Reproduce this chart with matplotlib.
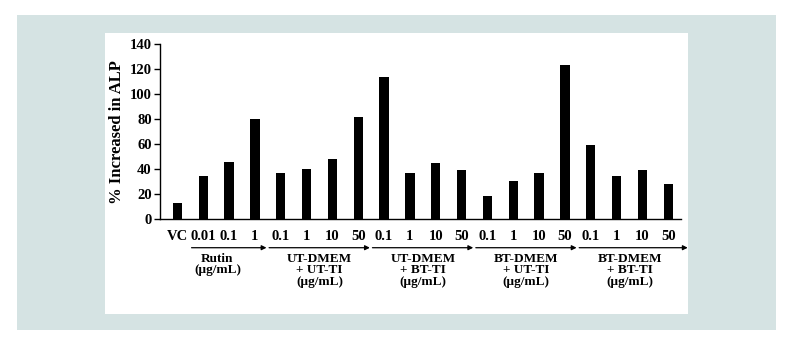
import numpy as np
import matplotlib.pyplot as plt
from matplotlib.patches import Rectangle

# Times-like bold text everywhere
plt.rcParams['font.family'] = ['Liberation Serif', 'DejaVu Serif']
plt.rcParams['font.weight'] = 'bold'

# dose labels under each bar
doses = ['VC', '0.01', '0.1', '1',
         '0.1', '1', '10', '50',
         '0.1', '1', '10', '50',
         '0.1', '1', '10', '50',
         '0.1', '1', '10', '50']
# % increase in ALP
alp = [13.3, 34.9, 46.0, 80.2,
       36.7, 40.5, 48.5, 81.7,
       113.7, 37.0, 45.0, 39.6,
       18.9, 30.6, 36.8, 123.3,
       59.4, 34.6, 39.4, 28.0]
# treatment groups (first and last bar index)
groups = ['Rutin\n(µg/mL)',
          'UT-DMEM\n+ UT-TI\n(µg/mL)',
          'UT-DMEM\n+ BT-TI\n(µg/mL)',
          'BT-DMEM\n+ UT-TI\n(µg/mL)',
          'BT-DMEM\n+ BT-TI\n(µg/mL)']
group_first = [1, 4, 8, 12, 16]
group_last = [3, 7, 11, 15, 19]

fig = plt.figure(figsize=(7.86, 3.6), dpi=100)
fig.patches.append(Rectangle((0.0216, 0.0833), 0.9656, 0.875, transform=fig.transFigure,
                             facecolor='#d5e3e3', edgecolor='none', zorder=-10))
fig.patches.append(Rectangle((0.1336, 0.1278), 0.7417, 0.7806, transform=fig.transFigure,
                             facecolor='white', edgecolor='none', zorder=-9))

ax = fig.add_axes([0.2036, 0.3908, 0.6628, 0.487])
ax.patch.set_alpha(0)

x = np.arange(len(alp))
ax.bar(x, alp, width=0.36, color='black')

ax.set_xlim(-0.67, 19.49)
ax.set_ylim(0, 140)
ax.set_yticks(range(0, 141, 20))
ax.set_xticks(x, doses)
ax.tick_params(axis='x', length=0, pad=8, labelsize=10.5)
ax.tick_params(axis='y', length=4, width=1, direction='out', pad=2, labelsize=10.5)
for s in ['top', 'right']:
    ax.spines[s].set_visible(False)
for s in ['left', 'bottom']:
    ax.spines[s].set_linewidth(1)

ax.text(-0.0825, 0.5, '% Increased in ALP', transform=ax.transAxes, rotation=90,
        ha='center', va='center', fontsize=12, fontweight='bold')

# arrows and group names under the dose labels
tr = ax.get_xaxis_transform()
label_shift = [-0.45, 0, 0, 0, 0]
for i, name in enumerate(groups):
    start = group_first[i] - 0.45
    end = group_last[i] + (0.75 if i == len(groups) - 1 else 0.45)
    ax.annotate('', xy=(end, -0.162), xytext=(start, -0.162), xycoords=tr,
                arrowprops=dict(arrowstyle='-|>', color='black', lw=0.9,
                                mutation_scale=7, shrinkA=0, shrinkB=0),
                annotation_clip=False)
    cx = (group_first[i] + group_last[i]) / 2 + label_shift[i]
    ax.text(cx, -0.19, name, transform=tr, ha='center', va='top',
            fontsize=9.5, fontweight='bold', linespacing=0.98)

fig.savefig('out.png', dpi=100)
